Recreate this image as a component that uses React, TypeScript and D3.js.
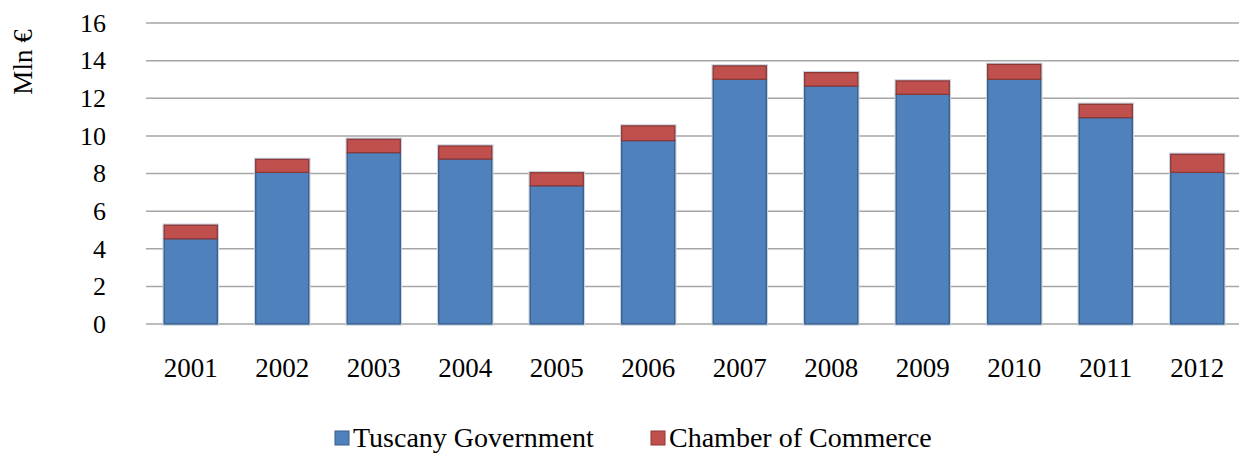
import React, { useEffect, useRef } from 'react'
import * as d3 from 'd3'

const years = ['2001', '2002', '2003', '2004', '2005', '2006', '2007', '2008', '2009', '2010', '2011', '2012']
const tuscanyGov = [4.53, 8.06, 9.11, 8.77, 7.35, 9.75, 13.01, 12.65, 12.21, 13.01, 10.97, 8.06]
const chamberCommerce = [0.72, 0.69, 0.71, 0.69, 0.69, 0.78, 0.71, 0.71, 0.71, 0.79, 0.71, 0.96]
const yTicks = [0, 2, 4, 6, 8, 10, 12, 14, 16]
const seriesNames = ['Tuscany Government', 'Chamber of Commerce']

const App = () => {
  const ref = useRef<SVGSVGElement>(null)
  const width = 1239
  const height = 454
  const font = '"Liberation Serif", "Times New Roman", serif'

  useEffect(() => {
    const svg = d3.select(ref.current)
    svg.selectAll('*').remove()

    const x = d3.scaleBand<string>()
      .domain(years)
      .range([145, 1243])
      .paddingInner(0.42)
      .paddingOuter(0.21)

    const y = d3.scaleLinear().domain([0, 16]).range([324, 23])

    // gridlines
    svg.append('g')
      .selectAll('line')
      .data(yTicks)
      .enter()
      .append('line')
      .attr('x1', 146)
      .attr('x2', 1239)
      .attr('y1', d => y(d))
      .attr('y2', d => y(d))
      .attr('stroke', '#a6a6a6')
      .attr('stroke-width', 1.5)

    // y tick labels
    svg.append('g')
      .selectAll('text')
      .data(yTicks)
      .enter()
      .append('text')
      .attr('x', 106)
      .attr('y', d => y(d))
      .attr('dy', '0.34em')
      .attr('text-anchor', 'end')
      .attr('font-family', font)
      .attr('font-size', 26)
      .attr('fill', '#000')
      .text(d => d)

    // y title
    svg.append('text')
      .attr('transform', 'translate(32, 62) rotate(-90)')
      .attr('text-anchor', 'middle')
      .attr('font-family', font)
      .attr('font-size', 27)
      .text('Mln €')

    const rows = years.map((yr, i) => ({ yr, a: tuscanyGov[i], b: chamberCommerce[i] }))
    const stack = d3.stack<any>().keys(['a', 'b'])(rows)
    const fills = ['#4f81bd', '#c0504d']
    const strokes = ['#385d8a', '#8c3836']

    // soft halo behind bars
    svg.append('g')
      .selectAll('rect')
      .data(rows)
      .enter()
      .append('rect')
      .attr('x', d => x(d.yr)!)
      .attr('y', d => y(d.a + d.b))
      .attr('width', x.bandwidth())
      .attr('height', d => y(0) - y(d.a + d.b))
      .attr('fill', 'none')
      .attr('stroke', '#c9d3e0')
      .attr('stroke-width', 3.5)

    stack.forEach((layer, k) => {
      svg.append('g')
        .selectAll('rect')
        .data(layer)
        .enter()
        .append('rect')
        .attr('x', d => x(d.data.yr)!)
        .attr('y', d => y(d[1]))
        .attr('width', x.bandwidth())
        .attr('height', d => y(d[0]) - y(d[1]))
        .attr('fill', fills[k])
        .attr('stroke', strokes[k])
        .attr('stroke-width', 1.3)
    })

    // x labels
    svg.append('g')
      .selectAll('text')
      .data(years)
      .enter()
      .append('text')
      .attr('x', d => x(d)! + x.bandwidth() / 2)
      .attr('y', 377)
      .attr('text-anchor', 'middle')
      .attr('font-family', font)
      .attr('font-size', 27)
      .text(d => d)

    // legend
    const legendX = [335, 651]
    const lg = svg.append('g')
    seriesNames.forEach((name, k) => {
      lg.append('rect')
        .attr('x', legendX[k])
        .attr('y', 431)
        .attr('width', 14)
        .attr('height', 14)
        .attr('fill', fills[k])
        .attr('stroke', strokes[k])
        .attr('stroke-width', 1)
      lg.append('text')
        .attr('x', legendX[k] + 18)
        .attr('y', 447)
        .attr('font-family', font)
        .attr('font-size', 28)
        .text(name)
    })
  }, [])

  return (
    <svg
      ref={ref}
      width={width}
      height={height}
      style={{ position: 'absolute', left: 0, top: 0, background: '#fff' }}
    />
  )
}

export default App
